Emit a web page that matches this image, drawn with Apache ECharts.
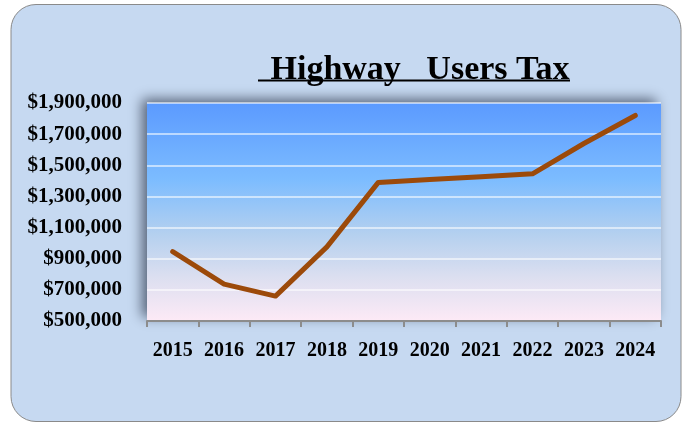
<!DOCTYPE html>
<html>
<head>
<meta charset="utf-8">
<script src="https://cdn.jsdelivr.net/npm/echarts@6/dist/echarts.min.js"></script>
<style>
  html, body { margin: 0; padding: 0; background: #fff; }
  #chart { width: 686px; height: 423px; }
</style>
</head>
<body>
<div id="chart"></div>
<script>
const years = ["2015", "2016", "2017", "2018", "2019", "2020", "2021", "2022", "2023", "2024"];
const taxValues = [945000, 737000, 660000, 976000, 1390000, 1408000, 1427000, 1445000, 1640000, 1820000];
const yMin = 500000;
const yMax = 1900000;
const yStep = 200000;

const serif = "'Liberation Serif', 'DejaVu Serif', serif";

const chart = echarts.init(document.getElementById("chart"));

chart.setOption({
  animation: false,
  backgroundColor: "#ffffff",
  title: {
    text: " Highway   Users Tax",
    left: 257,
    top: 48,
    textStyle: {
      fontFamily: serif,
      fontWeight: "bold",
      fontSize: 34,
      color: "#000"
    }
  },
  graphic: [
    {
      type: "rect",
      z: -10,
      shape: { x: 11, y: 4.5, width: 670, height: 417, r: 25 },
      style: { fill: "#c6d9f1", stroke: "#8a8a8a", lineWidth: 1 }
    },
    {
      type: "line",
      shape: { x1: 258, y1: 80.5, x2: 570, y2: 80.5 },
      style: { stroke: "#000", lineWidth: 2 }
    }
  ],
  grid: {
    left: 147,
    right: 25,
    top: 103,
    bottom: 102,
    show: true,
    borderWidth: 0,
    backgroundColor: new echarts.graphic.LinearGradient(0, 0, 0, 1, [
      { offset: 0, color: "#5b9aff" },
      { offset: 0.35, color: "#7cbcff" },
      { offset: 0.6, color: "#b4d0ef" },
      { offset: 0.8, color: "#dcdff0" },
      { offset: 1, color: "#fdeaf6" }
    ]),
    shadowColor: "rgba(40, 50, 70, 0.7)",
    shadowBlur: 12,
    shadowOffsetX: -5,
    shadowOffsetY: -4
  },
  xAxis: {
    type: "category",
    data: years,
    boundaryGap: true,
    axisLine: { lineStyle: { color: "#8c8c8c", width: 2 } },
    axisTick: { show: true, interval: 0, length: 6, lineStyle: { color: "#8c8c8c", width: 2 } },
    axisLabel: {
      interval: 0,
      margin: 20,
      fontFamily: serif,
      fontWeight: "bold",
      fontSize: 20,
      color: "#000"
    }
  },
  yAxis: {
    type: "value",
    min: yMin,
    max: yMax,
    interval: yStep,
    axisLine: { show: false },
    axisTick: { show: false },
    splitLine: { lineStyle: { color: "rgba(255,255,255,0.75)", width: 1.5 } },
    axisLabel: {
      margin: 25,
      fontFamily: serif,
      fontWeight: "bold",
      fontSize: 21,
      color: "#000",
      formatter: v => "$" + v.toLocaleString("en-US")
    }
  },
  series: [
    {
      type: "line",
      data: taxValues,
      symbol: "none",
      lineStyle: { color: "#9c4a0a", width: 5, cap: "round", join: "round" }
    }
  ]
});
</script>
</body>
</html>
